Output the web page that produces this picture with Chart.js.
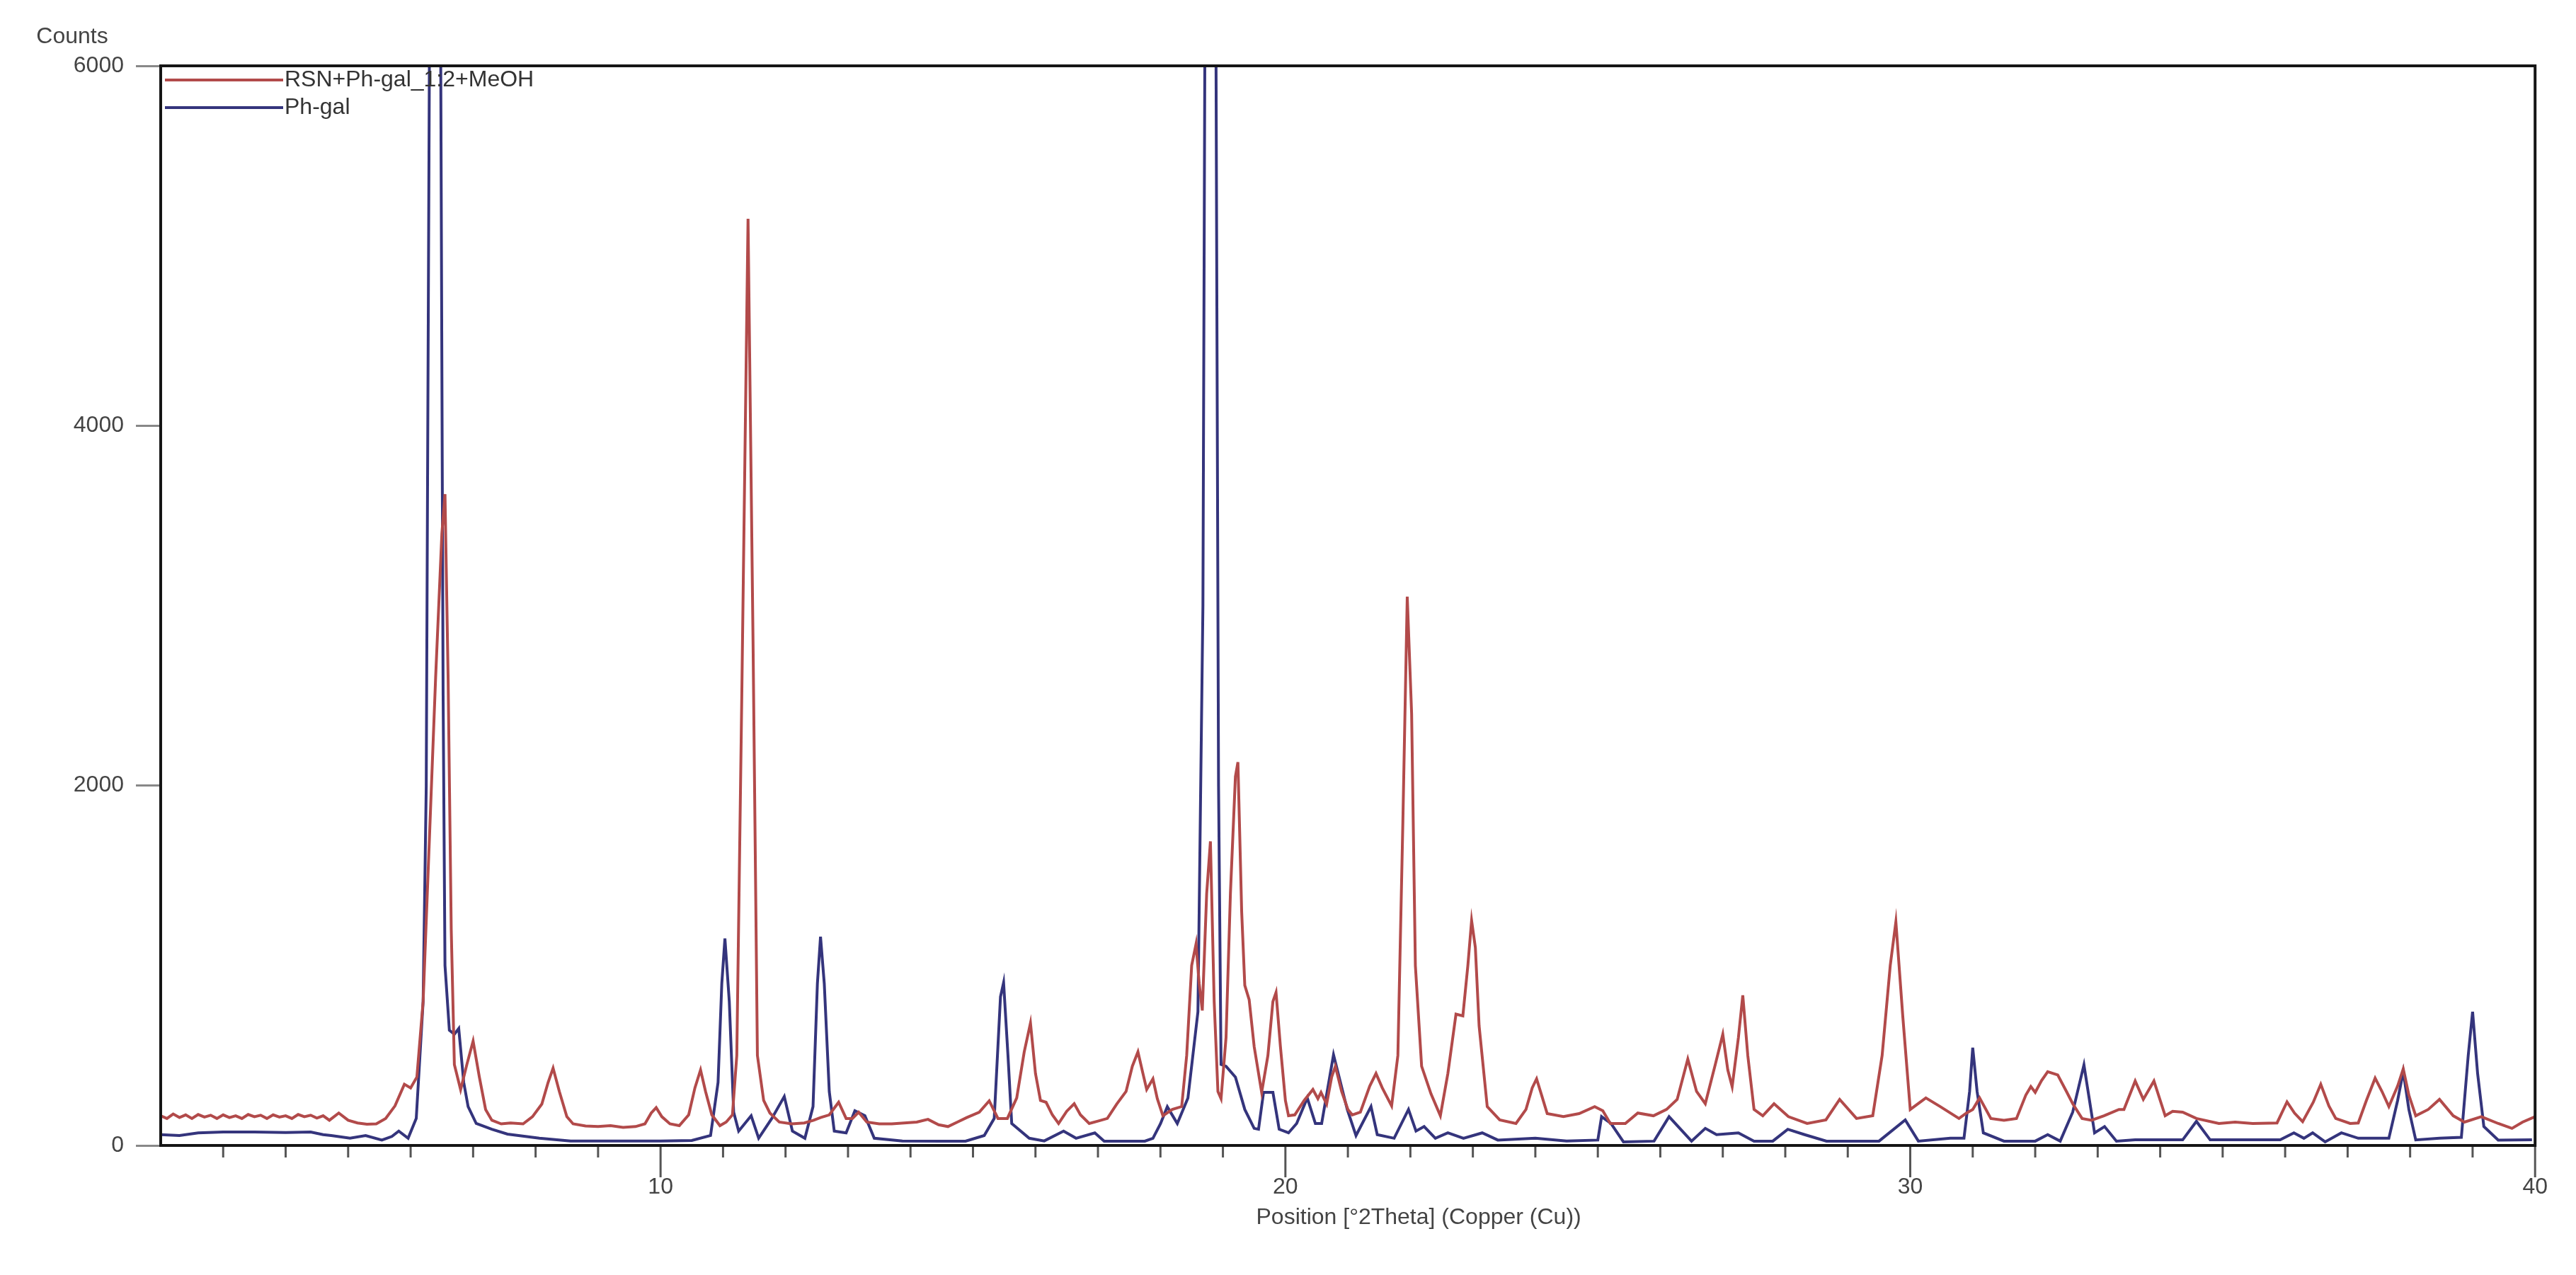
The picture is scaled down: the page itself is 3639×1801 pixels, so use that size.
<!DOCTYPE html>
<html>
<head>
<meta charset="utf-8">
<title>XRD pattern</title>
<script src="https://cdn.jsdelivr.net/npm/chart.js@4.4.1/dist/chart.umd.min.js"></script>
<style>
  html, body { margin: 0; padding: 0; background: #fff; }
</style>
</head>
<body>
<canvas id="xrd" width="3639" height="1801"></canvas>
<script>
// series names
const redLabel = 'RSN+Ph-gal_1:2+MeOH';
const blueLabel = 'Ph-gal';

// RSN+Ph-gal_1:2+MeOH, position (°2Theta) and counts
const redPos = [
  2.0, 2.1, 2.2, 2.3, 2.4, 2.5, 2.6, 2.7, 2.8, 2.9, 3.0, 3.1, 3.2, 3.3, 3.4, 3.5, 3.6, 3.7, 3.8, 3.9,
  4.0, 4.1, 4.2, 4.3, 4.4, 4.5, 4.6, 4.7, 4.85, 5.0, 5.15, 5.3, 5.45, 5.6, 5.75, 5.9, 6.0, 6.1, 6.2, 6.3,
  6.4, 6.45, 6.5, 6.55, 6.6, 6.65, 6.7, 6.8, 6.9, 7.0, 7.1, 7.2, 7.3, 7.45, 7.6, 7.8, 7.95, 8.1, 8.2, 8.28, 8.38,
  8.5, 8.6, 8.8, 9.0, 9.2, 9.4, 9.6, 9.75, 9.85, 9.93, 10.02, 10.15, 10.3, 10.45, 10.55, 10.64, 10.72, 10.82, 10.95, 11.05,
  11.15, 11.22, 11.3, 11.4, 11.48, 11.55, 11.65, 11.75, 11.9, 12.1, 12.3, 12.45, 12.56, 12.7, 12.85, 12.97, 13.07, 13.17, 13.3, 13.5,
  13.7, 13.9, 14.1, 14.28, 14.45, 14.6, 14.75, 14.9, 15.1, 15.26, 15.4, 15.55, 15.7, 15.82, 15.92, 16.0, 16.08, 16.17, 16.27, 16.37,
  16.5, 16.62, 16.72, 16.86, 17.0, 17.15, 17.3, 17.45, 17.55, 17.64, 17.72, 17.78, 17.88, 17.95, 18.04, 18.19, 18.34, 18.42, 18.5, 18.57,
  18.62, 18.67, 18.74, 18.8, 18.86, 18.92, 18.97, 19.05, 19.12, 19.2, 19.24, 19.3, 19.35, 19.42, 19.5, 19.62, 19.72, 19.8, 19.85, 19.92,
  20.0, 20.05, 20.15, 20.3, 20.44, 20.52, 20.57, 20.66, 20.74, 20.8, 20.9, 21.0, 21.07, 21.2, 21.35, 21.45, 21.55, 21.7, 21.8, 21.88,
  21.95, 22.02, 22.08, 22.18, 22.33, 22.48, 22.6, 22.73, 22.84, 22.92, 22.98, 23.04, 23.1, 23.23, 23.43, 23.69, 23.85, 23.95, 24.02, 24.1,
  24.19, 24.45, 24.7, 24.95, 25.08, 25.2, 25.44, 25.64, 25.89, 26.1, 26.27, 26.44, 26.58, 26.72, 26.88, 27.0, 27.08, 27.15, 27.25, 27.32,
  27.4, 27.5, 27.64, 27.82, 28.05, 28.35, 28.65, 28.87, 29.14, 29.4, 29.55, 29.68, 29.77, 29.88, 30.0, 30.25, 30.48, 30.78, 30.9, 31.0,
  31.11, 31.29, 31.5, 31.7, 31.85, 31.93, 32.0, 32.1, 32.2, 32.36, 32.5, 32.6, 32.75, 32.9, 33.1, 33.34, 33.42, 33.6, 33.73, 33.9,
  34.08, 34.2, 34.36, 34.58, 34.94, 35.2, 35.48, 35.87, 36.03, 36.15, 36.28, 36.45, 36.57, 36.7, 36.81, 37.04, 37.17, 37.3, 37.44, 37.55,
  37.66, 37.8, 37.89, 37.98, 38.09, 38.29, 38.47, 38.69, 38.87, 39.14, 39.41, 39.63, 39.8, 40.0
];
const redCounts = [
  165, 150, 175, 155, 170, 150, 172, 158, 168, 150, 170, 155, 165, 150, 172, 160, 168, 150, 170, 158,
  165, 150, 172, 160, 168, 152, 165, 140, 180, 140, 125, 118, 120, 150, 220, 340, 320, 380, 800, 1700,
  2600, 3000, 3400, 3620, 2600, 1200, 450, 310, 450, 580, 380, 200, 140, 120, 125, 120, 160, 230, 350, 430, 300,
  160, 120, 108, 105, 110, 100, 105, 120, 180, 210, 160, 120, 110, 170, 320, 420, 300, 170, 110, 130,
  170, 500, 2500, 5150, 2800, 500, 250, 180, 130, 120, 125, 140, 155, 170, 240, 150, 150, 185, 130, 120,
  120, 125, 130, 145, 115, 105, 130, 155, 185, 248, 150, 150, 264, 520, 680, 400, 250, 240, 170, 122,
  190, 232, 170, 122, 135, 150, 230, 300, 440, 520, 400, 311, 370, 260, 165, 200, 216, 500, 1000, 1120,
  900, 750, 1400, 1690, 800, 300, 260, 600, 1400, 2050, 2130, 1300, 890, 810, 550, 295, 500, 800, 850, 550,
  250, 165, 170, 250, 311, 260, 295, 230, 380, 440, 300, 200, 170, 185, 330, 400, 320, 220, 500, 1800,
  3050, 2400, 1000, 440, 287, 165, 400, 730, 720, 1000, 1250, 1100, 665, 216, 142, 122, 200, 320, 370, 280,
  177, 160, 177, 216, 193, 122, 122, 180, 165, 200, 256, 480, 300, 232, 450, 618, 420, 327, 600, 834,
  500, 200, 165, 232, 160, 122, 142, 256, 150, 165, 500, 1000, 1243, 720, 200, 264, 216, 150, 180, 200,
  264, 150, 140, 150, 280, 327, 295, 360, 410, 392, 300, 232, 150, 140, 165, 200, 200, 358, 256, 358,
  165, 190, 185, 150, 122, 130, 122, 125, 242, 180, 132, 240, 340, 220, 150, 122, 125, 250, 374, 300,
  216, 330, 425, 280, 165, 200, 256, 165, 130, 160, 122, 95, 130, 160
];

// Ph-gal, position (°2Theta) and counts
const bluePos = [
  2.0, 2.3, 2.6, 3.0, 3.5, 4.0, 4.4, 4.6, 4.73, 5.03, 5.28, 5.54, 5.7, 5.81, 5.96, 6.09, 6.2, 6.25, 6.3, 6.4, 6.48, 6.52,
  6.55, 6.62, 6.7, 6.77, 6.85, 6.92, 7.05, 7.3, 7.55, 8.06, 8.56, 9.0, 9.5, 10.0, 10.5, 10.8, 10.92, 10.98, 11.03, 11.1,
  11.17, 11.25, 11.45, 11.57, 11.78, 11.98, 12.11, 12.31, 12.44, 12.51, 12.56, 12.62, 12.7, 12.78, 12.97, 13.11, 13.27, 13.42, 13.87, 14.5,
  14.88, 15.18, 15.34, 15.44, 15.49, 15.56, 15.62, 15.9, 16.14, 16.45, 16.65, 16.95, 17.1, 17.75, 17.88, 18.0, 18.11, 18.27, 18.44, 18.6,
  18.68, 18.72, 18.8, 18.88, 18.93, 18.97, 19.05, 19.2, 19.35, 19.5, 19.57, 19.65, 19.8, 19.9, 20.05, 20.18, 20.35, 20.48, 20.58, 20.77, 20.99, 21.13,
  21.37, 21.47, 21.74, 21.97, 22.09, 22.22, 22.4, 22.6, 22.85, 23.15, 23.4, 24.0, 24.5, 25.0, 25.06, 25.21, 25.41, 25.9, 26.14, 26.5,
  26.72, 26.9, 27.25, 27.5, 27.8, 28.04, 28.31, 28.66, 29.5, 29.92, 30.13, 30.64, 30.86, 30.95, 31.0, 31.07, 31.17, 31.5, 32.0, 32.2,
  32.4, 32.6, 32.78, 32.95, 33.11, 33.3, 33.6, 34.36, 34.58, 34.8, 35.92, 36.14, 36.3, 36.44, 36.64, 36.9, 37.17, 37.66, 37.8, 37.89,
  37.98, 38.09, 38.47, 38.82, 38.93, 39.0, 39.08, 39.18, 39.41, 39.95
];
const blueCounts = [
  60, 55, 70, 75, 75, 72, 75, 60, 55, 40, 55, 30, 50, 80, 40, 150, 800, 2000, 6000, 10000, 6200, 2500,
  1000, 640, 618, 650, 350, 216, 122, 90, 63, 40, 25, 25, 25, 25, 28, 55, 350, 900, 1150, 800,
  185, 80, 165, 40, 150, 272, 80, 40, 216, 900, 1160, 900, 300, 80, 70, 193, 165, 40, 25, 24,
  24, 55, 150, 826, 905, 500, 122, 40, 25, 80, 40, 70, 24, 24, 40, 120, 215, 122, 264, 743,
  3000, 7000, 10000, 7000, 2000, 450, 440, 380, 200, 95, 90, 295, 295, 90, 70, 122, 264, 122, 122, 504, 200, 55,
  216, 60, 40, 200, 80, 105, 40, 70, 40, 70, 30, 40, 25, 30, 160, 122, 20, 24, 160, 24,
  95, 60, 70, 24, 24, 90, 60, 24, 24, 142, 24, 40, 40, 300, 543, 300, 70, 24, 24, 60,
  24, 185, 448, 70, 105, 24, 31, 31, 134, 31, 31, 70, 40, 70, 20, 70, 40, 40, 250, 410,
  200, 31, 40, 45, 500, 743, 400, 105, 30, 31
];

// axis settings
const xMin = 2, xMax = 40, xMajor = 10;
const yMin = 0, yMax = 6000, yStep = 2000;

const redColor = '#b24a4a';
const blueColor = '#34347c';
const textFont = { family: "'Liberation Sans', Arial, sans-serif", size: 32 };

const toPoints = (xs, ys) => xs.map((x, i) => ({ x: x, y: ys[i] }));

// frame, degree ticks, legend and axis captions
const decorations = {
  id: 'decorations',
  afterDraw(chart) {
    const { ctx, chartArea: a, scales: { x } } = chart;
    ctx.save();

    // tick marks every degree, longer ones at the labelled positions
    ctx.strokeStyle = '#555';
    ctx.lineWidth = 3;
    for (let v = Math.floor(xMin) + 1; v <= xMax; v++) {
      const px = x.getPixelForValue(v);
      const len = v % xMajor === 0 ? 45 : 17;
      ctx.beginPath();
      ctx.moveTo(px, a.bottom);
      ctx.lineTo(px, a.bottom + len);
      ctx.stroke();
    }

    // plot box
    ctx.strokeStyle = '#151515';
    ctx.lineWidth = 4;
    ctx.strokeRect(a.left, a.top, a.right - a.left, a.bottom - a.top);

    // legend inside the box, top left
    ctx.font = `${textFont.size}px ${textFont.family}`;
    ctx.textAlign = 'left';
    ctx.textBaseline = 'middle';
    const rows = [[redLabel, redColor, a.top + 20], [blueLabel, blueColor, a.top + 59]];
    rows.forEach(([label, color, y]) => {
      ctx.strokeStyle = color;
      ctx.lineWidth = 4;
      ctx.beginPath();
      ctx.moveTo(a.left + 6, y);
      ctx.lineTo(a.left + 173, y);
      ctx.stroke();
      ctx.fillStyle = '#333';
      ctx.fillText(label, a.left + 175, y);
    });

    // axis captions
    ctx.fillStyle = '#444';
    ctx.textAlign = 'center';
    ctx.fillText('Counts', 102, 52);
    ctx.fillText('Position [°2Theta] (Copper (Cu))', (a.left + a.right) / 2 + 100, a.bottom + 102);
    ctx.restore();
  }
};

new Chart(document.getElementById('xrd'), {
  type: 'line',
  data: {
    datasets: [
      {
        label: redLabel,
        data: toPoints(redPos, redCounts),
        borderColor: redColor,
        borderWidth: 4,
        pointRadius: 0,
        tension: 0,
        fill: false
      },
      {
        label: blueLabel,
        data: toPoints(bluePos, blueCounts),
        borderColor: blueColor,
        borderWidth: 4,
        pointRadius: 0,
        tension: 0,
        fill: false
      }
    ]
  },
  options: {
    responsive: false,
    animation: false,
    layout: { padding: { top: 93, right: 51, left: 0, bottom: 0 } },
    plugins: {
      legend: { display: false },
      tooltip: { enabled: false }
    },
    scales: {
      x: {
        type: 'linear',
        min: xMin,
        max: xMax,
        afterFit: (s) => { s.height = 183; },
        grid: { drawOnChartArea: false, drawTicks: false },
        border: { color: '#151515', width: 4 },
        ticks: {
          stepSize: xMajor,
          autoSkip: false,
          maxRotation: 0,
          padding: 40,
          color: '#444',
          font: textFont,
          callback: (v) => (v % xMajor === 0 ? String(v) : '')
        }
      },
      y: {
        min: yMin,
        max: yMax,
        afterFit: (s) => { s.width = 227; },
        grid: { drawOnChartArea: false, tickLength: 35, tickColor: '#888', tickWidth: 3 },
        border: { color: '#151515', width: 4 },
        ticks: {
          stepSize: yStep,
          padding: 17,
          color: '#444',
          font: textFont,
          callback: (v) => String(v)
        }
      }
    }
  },
  plugins: [decorations]
});
</script>
</body>
</html>
